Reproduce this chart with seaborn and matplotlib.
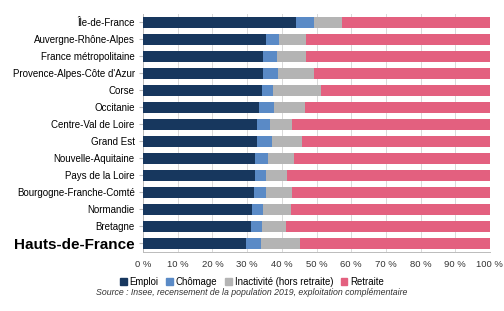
import pandas as pd
import matplotlib.pyplot as plt
import seaborn as sns
from matplotlib.patches import Patch

regions = ["Île-de-France", "Auvergne-Rhône-Alpes", "France métropolitaine",
           "Provence-Alpes-Côte d'Azur", "Corse", "Occitanie", "Centre-Val de Loire",
           "Grand Est", "Nouvelle-Aquitaine", "Pays de la Loire",
           "Bourgogne-Franche-Comté", "Normandie", "Bretagne", "Hauts-de-France"]
emploi = [44.1, 35.4, 34.5, 34.5, 34.4, 33.5, 32.8, 32.8, 32.3, 32.2, 31.9, 31.3, 31.0, 29.7]
chomage = [5.1, 3.8, 4.1, 4.3, 3.0, 4.3, 3.7, 4.3, 3.6, 3.2, 3.5, 3.3, 3.4, 4.4]
inactivite = [8.2, 7.8, 8.5, 10.6, 13.9, 9.0, 6.4, 8.7, 7.5, 6.2, 7.4, 8.0, 6.8, 11.1]
series = ["Emploi", "Chômage", "Inactivité (hors retraite)", "Retraite"]
colors = ["#17375e", "#5a8ac6", "#b4b4b4", "#e3607f"]

df = pd.DataFrame({"region": regions, "Emploi": emploi, "Chômage": chomage,
                   "Inactivité (hors retraite)": inactivite})
df["Retraite"] = 100 - df["Emploi"] - df["Chômage"] - df["Inactivité (hors retraite)"]
cum = df[series].cumsum(axis=1)
cum["region"] = df["region"]

plt.rcParams['font.family'] = ['Liberation Sans', 'DejaVu Sans']
fig = plt.figure(figsize=(5.04, 3.11), dpi=100)
ax = fig.add_axes([0.284, 0.19, 0.688, 0.765])

# stacked bars: draw cumulative totals from the longest down
for s, c in reversed(list(zip(series, colors))):
    sns.barplot(data=cum, x=s, y="region", color=c, width=0.62, ax=ax,
                saturation=1, zorder=3)

ax.set_xlim(0, 100)
ax.set_xticks(range(0, 101, 10))
ax.set_xticklabels([f"{v} %" for v in range(0, 101, 10)], fontsize=6.8, color="#333333")
ax.set_xlabel("")
ax.set_ylabel("")
ax.tick_params(axis="y", labelsize=7, length=3, color="#bbbbbb", pad=3)
ax.tick_params(axis="x", length=0, pad=6)
for lab in ax.get_yticklabels():
    if lab.get_text() == "Hauts-de-France":
        lab.set_fontsize(11)
        lab.set_fontweight("bold")
ax.grid(axis="x", color="#d9d9d9", linewidth=0.7, zorder=0)
ax.set_axisbelow(True)
for sp in ["top", "right"]:
    ax.spines[sp].set_visible(False)
for sp in ["left", "bottom"]:
    ax.spines[sp].set_color("#bbbbbb")
    ax.spines[sp].set_linewidth(0.7)
ax.set_ylim(13.5, -0.5)

handles = [Patch(color=c, label=s) for s, c in zip(series, colors)]
fig.legend(handles=handles, loc="center", bbox_to_anchor=(0.5, 0.093), ncol=4,
           frameon=False, fontsize=6.9, handlelength=0.7, handleheight=0.7,
           handletextpad=0.3, columnspacing=0.8)
fig.text(0.5, 0.058, "Source : Insee, recensement de la population 2019, exploitation complémentaire",
         ha="center", va="center", fontsize=6.3, style="italic", color="#333333")

fig.savefig("out.png", dpi=100)
